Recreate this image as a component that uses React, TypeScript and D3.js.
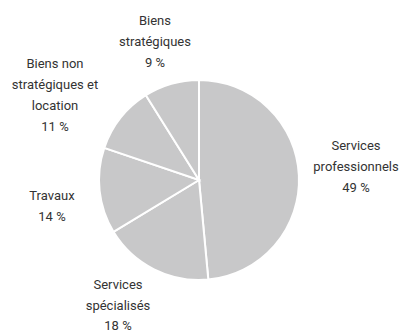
import React from "react";
import * as d3 from "d3";

const categories = ["Services professionnels", "Services spécialisés", "Travaux", "Biens non stratégiques et location", "Biens stratégiques"];
const values = [49, 18, 14, 11, 9];
const labelLines = [
  ["Services", "professionnels", "49 %"],
  ["Services", "spécialisés", "18 %"],
  ["Travaux", "14 %"],
  ["Biens non", "stratégiques et", "location", "11 %"],
  ["Biens", "stratégiques", "9 %"],
];
const labelPos: [number, number][] = [
  [356, 145],
  [118, 284.5],
  [52, 195],
  [55, 63],
  [155, 20],
];

export default function App() {
  const W = 399, H = 333;
  const cx = 199, cy = 180, r = 100;
  const pie = d3.pie<number>().sort(null).value((d) => d);
  const arcs = pie(values);
  const arc = d3.arc<d3.PieArcDatum<number>>().innerRadius(0).outerRadius(r);
  return (
    <svg width={W} height={H} style={{ position: "absolute", left: 0, top: 0 }}>
      <rect width={W} height={H} fill="#fff" />
      <g transform={`translate(${cx},${cy})`}>
        {arcs.map((a, i) => (
          <path key={categories[i]} d={arc(a) || ""} fill="#c8c8c9" stroke="#fff" strokeWidth={2} />
        ))}
      </g>
      {labelLines.map((lines, i) => (
        <text key={i} textAnchor="middle" fontFamily="Roboto, sans-serif" fontSize={13} fill="#333">
          {lines.map((l, j) => (
            <tspan key={j} x={labelPos[i][0]} y={labelPos[i][1] + j * (i === 1 ? 20.5 : 21)} dy="0.35em">{l}</tspan>
          ))}
        </text>
      ))}
    </svg>
  );
}
